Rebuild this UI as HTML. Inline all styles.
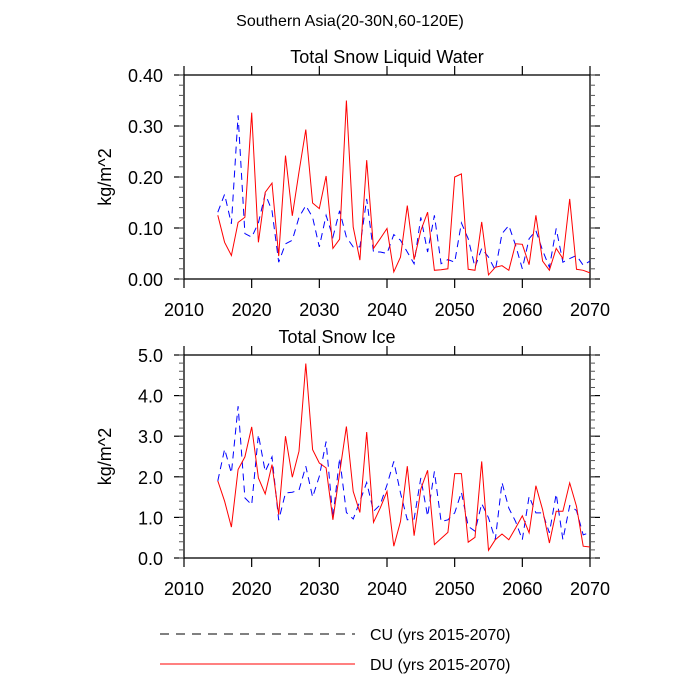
<!DOCTYPE html>
<html><head><meta charset="utf-8">
<style>
html,body{margin:0;padding:0;background:#fff;}
svg{display:block;font-family:"Liberation Sans",sans-serif;}
</style></head>
<body>
<svg id="chart" width="700" height="700" viewBox="0 0 700 700" xmlns="http://www.w3.org/2000/svg">
<text x="350" y="26" font-size="16" text-anchor="middle">Southern Asia(20-30N,60-120E)</text>
<g id="p1"></g>
<g id="p2"></g>
<g>
<line x1="160" y1="634" x2="355" y2="634" stroke="#000" stroke-width="1" stroke-dasharray="9,7"/>
<text x="370" y="640" font-size="16">CU (yrs 2015-2070)</text>
<line x1="160" y1="664" x2="355" y2="664" stroke="#f00" stroke-width="1"/>
<text x="370" y="670" font-size="16">DU (yrs 2015-2070)</text>
</g>
</svg>
<script>
const years = [];
for (let y = 2015; y <= 2070; y++) years.push(y);
const xTicks = [2010, 2020, 2030, 2040, 2050, 2060, 2070];
const liqTicks = ["0.00","0.10","0.20","0.30","0.40"];
const iceTicks = ["0.0","1.0","2.0","3.0","4.0","5.0"];
const liqDU = [0.125,0.072,0.046,0.111,0.121,0.326,0.072,0.17,0.188,0.045,0.242,0.124,0.21,0.293,0.149,0.138,0.202,0.06,0.078,0.35,0.102,0.037,0.233,0.06,0.079,0.099,0.014,0.043,0.144,0.038,0.095,0.131,0.017,0.018,0.02,0.2,0.206,0.019,0.017,0.112,0.008,0.023,0.026,0.017,0.069,0.068,0.028,0.125,0.035,0.017,0.06,0.04,0.157,0.019,0.017,0.012];
const liqCU = [0.131,0.166,0.108,0.321,0.089,0.082,0.11,0.167,0.134,0.033,0.069,0.076,0.121,0.144,0.121,0.063,0.125,0.082,0.134,0.082,0.063,0.063,0.157,0.053,0.053,0.05,0.087,0.076,0.053,0.03,0.121,0.053,0.125,0.03,0.038,0.033,0.11,0.079,0.023,0.06,0.043,0.017,0.089,0.105,0.066,0.02,0.079,0.095,0.056,0.023,0.099,0.033,0.04,0.046,0.027,0.035];
const iceDU = [1.9,1.4,0.76,2.18,2.49,3.23,1.97,1.58,2.3,1.07,3.0,1.99,2.63,4.79,2.67,2.34,2.22,0.94,2.09,3.24,1.64,1.12,3.1,0.88,1.23,1.64,0.29,0.9,2.26,0.55,1.7,2.16,0.33,0.48,0.63,2.08,2.08,0.39,0.51,2.38,0.19,0.45,0.59,0.45,0.74,1.04,0.62,1.78,1.19,0.37,1.15,1.15,1.85,1.27,0.29,0.27];
const iceCU = [1.9,2.68,2.09,3.74,1.48,1.31,3.04,2.13,2.49,0.93,1.6,1.62,1.67,2.26,1.5,2.01,2.87,0.99,2.46,1.12,0.96,1.4,1.86,1.15,1.31,1.8,2.38,1.6,0.94,0.96,1.97,1.03,2.13,0.9,0.94,1.11,1.62,0.78,0.66,1.34,0.99,0.45,1.86,1.23,0.9,0.45,1.52,1.11,1.11,0.62,1.58,0.45,1.29,1.17,0.57,0.63];

const NS = "http://www.w3.org/2000/svg";
function mk(tag, attrs, parent) {
  const e = document.createElementNS(NS, tag);
  for (const k in attrs) e.setAttribute(k, attrs[k]);
  parent.appendChild(e);
  return e;
}
function panel(g, top, bottom, ymax, yTickLabels, minorStep, title, titleX, cu, du, key) {
  const L = 184, R = 590;
  const xs = v => L + (v - 2010) / 60 * (R - L);
  const ys = v => bottom - v / ymax * (bottom - top);
  const t = mk("text", {x: titleX, y: top - 12, "font-size": 18, "text-anchor": "middle"}, g);
  t.textContent = title;
  
  
  const fr = mk("rect", {x: L, y: top, width: R - L, height: bottom - top, fill: "none", stroke: "#000", "stroke-width": 1.3}, g);
  
  
  const nMaj = yTickLabels.length;
  for (let i = 0; i < nMaj; i++) {
    const v = parseFloat(yTickLabels[i]);
    const y = ys(v);
    mk("line", {x1: L - 10, y1: y, x2: L, y2: y, stroke: "#000", "stroke-width": 1.2}, g);
    mk("line", {x1: R, y1: y, x2: R + 10, y2: y, stroke: "#000", "stroke-width": 1.2}, g);
    const lb = mk("text", {x: L - 21, y: y + 7, "font-size": 18, "text-anchor": "end"}, g);
    lb.textContent = yTickLabels[i];
    
    
  }
  for (let v = 0; v <= ymax + 1e-9; v += minorStep) {
    const y = ys(v);
    mk("line", {x1: L - 5, y1: y, x2: L, y2: y, stroke: "#555", "stroke-width": 1}, g);
    mk("line", {x1: R, y1: y, x2: R + 5, y2: y, stroke: "#555", "stroke-width": 1}, g);
  }
  for (const xv of xTicks) {
    const x = xs(xv);
    mk("line", {x1: x, y1: bottom, x2: x, y2: bottom + 9, stroke: "#000", "stroke-width": 1.2}, g);
    mk("line", {x1: x, y1: top - 9, x2: x, y2: top, stroke: "#000", "stroke-width": 1.2}, g);
    const lb = mk("text", {x: x, y: bottom + 37, "font-size": 18, "text-anchor": "middle"}, g);
    lb.textContent = xv;
    
    
  }
  const yl = mk("text", {transform: "translate(" + (L - 73) + "," + ((top + bottom) / 2) + ") rotate(-90)", "font-size": 18, "text-anchor": "middle"}, g);
  yl.textContent = "kg/m^2";
  
  
  const ptsCU = years.map((yr, i) => xs(yr).toFixed(1) + "," + ys(cu[i]).toFixed(1)).join(" ");
  const ptsDU = years.map((yr, i) => xs(yr).toFixed(1) + "," + ys(du[i]).toFixed(1)).join(" ");
  const l1 = mk("polyline", {points: ptsCU, fill: "none", stroke: "#00f", "stroke-width": 1, "stroke-dasharray": "7,5"}, g);
  
  
  const l2 = mk("polyline", {points: ptsDU, fill: "none", stroke: "#f00", "stroke-width": 1}, g);
  
  
}
panel(document.getElementById("p1"), 75, 279, 0.4, liqTicks, 0.02, "Total Snow Liquid Water", 387, liqCU, liqDU, "liquid-water");
panel(document.getElementById("p2"), 355, 558, 5.0, iceTicks, 0.2, "Total Snow Ice", 337, iceCU, iceDU, "snow-ice");
</script>
</body></html>
